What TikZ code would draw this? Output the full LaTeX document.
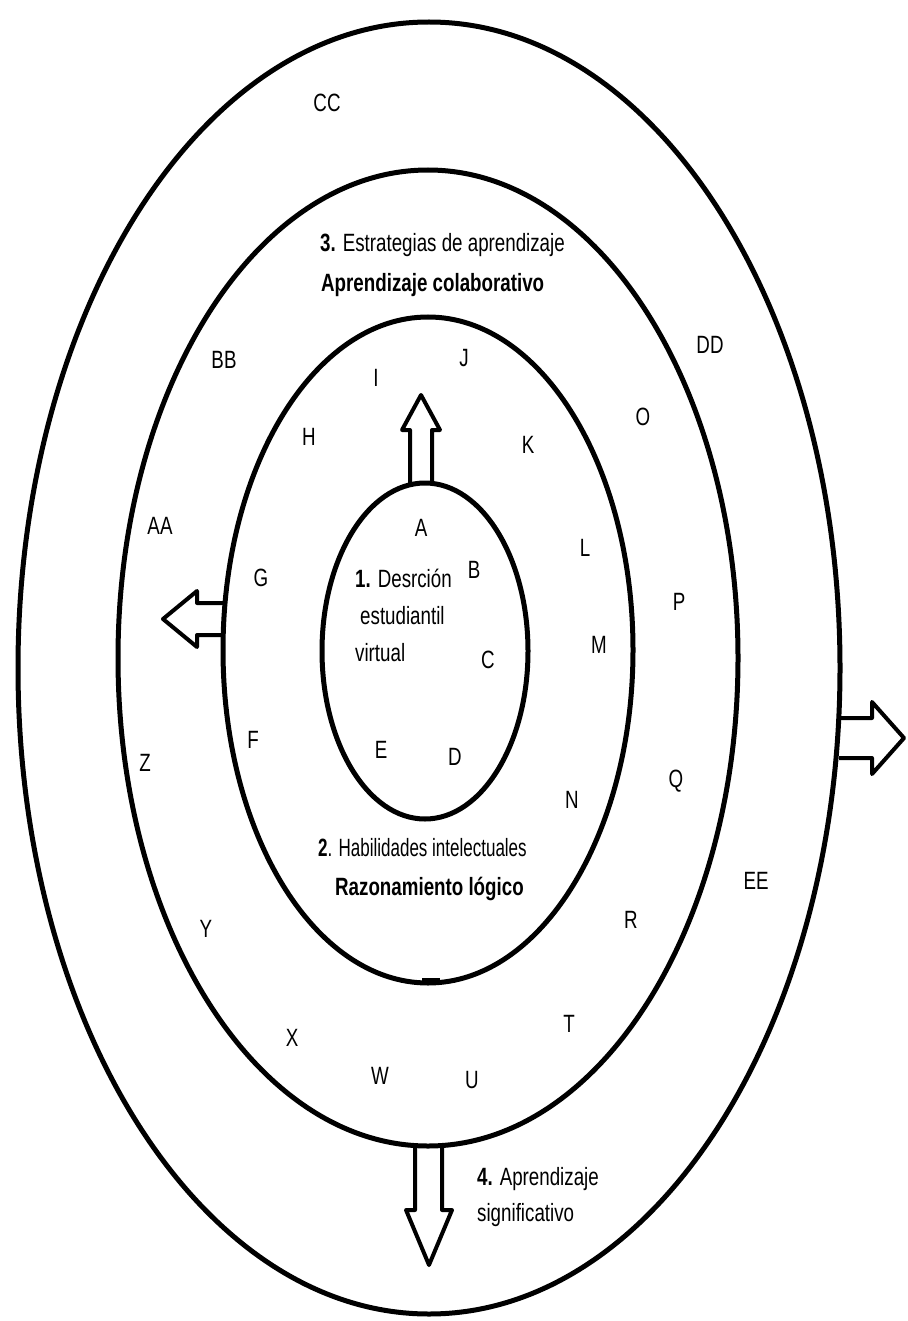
\documentclass[tikz,border=0pt]{standalone}
\usepackage{fontspec}
\setmainfont{Liberation Sans}[FakeStretch=0.75]
\newfontfamily\narrowfont{Liberation Sans}[FakeStretch=0.68]

\tikzset{
    ring/.style={line width=5pt},
    blockarrow/.style={line width=4pt, line join=round},
    lbl/.style={inner sep=0pt, font=\fontsize{25}{30}\selectfont},
    txt/.style={inner sep=0pt, anchor=base west, font=\fontsize{25}{30}\selectfont},
}

\begin{document}
\begin{tikzpicture}[x=1pt, y=-1pt]
        \useasboundingbox (0,0) rectangle (907,1321);

        % the four rings
        \draw[ring] (425,651) ellipse [x radius=103pt, y radius=168pt];
        \draw[ring] (428,650) ellipse [x radius=205pt, y radius=333pt];
        \draw[ring] (428,658) ellipse [x radius=310pt, y radius=488pt];
        \draw[ring] (429,668) ellipse [x radius=411pt, y radius=646pt];
        \fill (422,983) rectangle (440,978);

        % block arrows
        \coordinate (up) at (421,485);
        \coordinate (lt) at (224,619);
        \coordinate (rt) at (839,738);
        \coordinate (dn) at (428,1147);
        \draw[blockarrow] (up) ++(-11,0) -- ++(0,-55) -- ++(-8,0) -- ++(19,-35)
            -- ++(19,35) -- ++(-8,0) -- ++(0,55);
        \draw[blockarrow] (lt) ++(0,-16) -- ++(-27,0) -- ++(0,-12) -- ++(-34,28)
            -- ++(34,28) -- ++(0,-12) -- ++(27,0);
        \draw[blockarrow] (rt) ++(0,-20) -- ++(33,0) -- ++(0,-16) -- ++(32,36)
            -- ++(-32,36) -- ++(0,-16) -- ++(-33,0);
        \draw[blockarrow] (dn) ++(-13,0) -- ++(0,63) -- ++(-9,0) -- ++(23,55)
            -- ++(23,-55) -- ++(-10,0) -- ++(0,-63);

        % letters
        \foreach \n/\x/\y in {A/421/528, B/474/570, C/488/660, D/455/757, E/381/750,
            F/253/740, G/261/578, H/309/437, I/376/378, J/464/358, K/528/445,
            L/585/548, M/599/645, N/572/800, O/643/417, P/679/602, Q/676/781,
            R/631/920, T/569/1024, U/472/1080, W/380/1076, X/292/1038, Y/206/929,
            Z/145/763, AA/160/526, BB/224/360, CC/327/103, DD/710/345, EE/756/881} {
            \node[lbl] (\n) at (\x,\y) {\n};
        }

        % ring titles
        \node[txt] (t1a) at (355,587) {\textbf{1.} Desrción};
        \node[txt] (t1b) at (360,624) {estudiantil};
        \node[txt] (t1c) at (355,661) {virtual};
        \node[txt, font=\fontsize{25}{30}\narrowfont] (t2a) at (318,856) {\textbf{2}. Habilidades intelectuales};
        \node[txt] (t2b) at (335,895) {\textbf{Razonamiento lógico}};
        \node[txt] (t3a) at (320,252) {\textbf{3.} Estrategias de aprendizaje};
        \node[txt] (t3b) at (321,291) {\textbf{Aprendizaje colaborativo}};
        \node[txt] (t4a) at (477,1185) {\textbf{4.} Aprendizaje};
        \node[txt] (t4b) at (477,1221) {significativo};
\end{tikzpicture}
\end{document}
